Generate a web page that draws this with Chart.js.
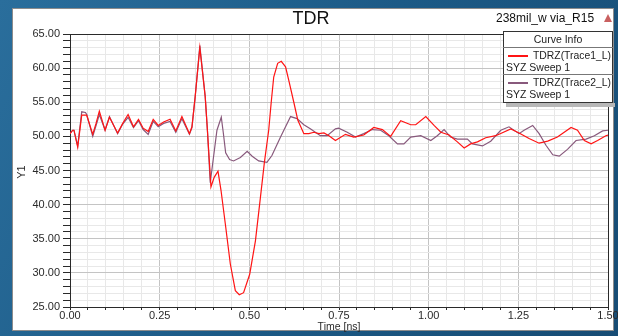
<!DOCTYPE html>
<html>
<head>
<meta charset="utf-8">
<script src="https://cdn.jsdelivr.net/npm/chart.js@4.4.1/dist/chart.umd.min.js"></script>
<style>
  html, body { margin: 0; padding: 0; background: #1f5c86; }
  #wrap { position: relative; width: 618px; height: 336px; }
</style>
</head>
<body>
<div id="wrap"><canvas id="tdr" width="618" height="336"></canvas></div>
<script>
// TDRZ(Trace1_L) - red
const trace1Time = [0.000, 0.0075, 0.011, 0.0215, 0.0327, 0.0466, 0.0634, 0.0726, 0.0818, 0.0978, 0.110, 0.1327, 0.147, 0.162, 0.177, 0.191, 0.204, 0.218, 0.232, 0.246, 0.261, 0.279, 0.295, 0.312, 0.333, 0.340, 0.349, 0.362, 0.377, 0.383, 0.393, 0.402, 0.4126, 0.421, 0.433, 0.447, 0.461, 0.472, 0.484, 0.501, 0.517, 0.531, 0.542, 0.554, 0.561, 0.568, 0.579, 0.589, 0.601, 0.610, 0.624, 0.635, 0.652, 0.666, 0.680, 0.694, 0.708, 0.722, 0.740, 0.768, 0.791, 0.819, 0.847, 0.871, 0.894, 0.922, 0.950, 0.964, 0.992, 1.015, 1.034, 1.057, 1.080, 1.099, 1.117, 1.136, 1.159, 1.187, 1.229, 1.252, 1.280, 1.308, 1.332, 1.359, 1.397, 1.415, 1.434, 1.453, 1.471, 1.494, 1.500]
const trace1Z = [50.4, 50.9, 50.9, 48.4, 53.1, 53.1, 50.3, 51.9, 53.7, 50.9, 52.8, 50.5, 51.9, 53.2, 51.4, 52.5, 51.2, 50.7, 52.5, 51.6, 52.1, 52.5, 50.8, 52.9, 50.4, 51.4, 55.8, 63.0, 55.8, 51.0, 42.6, 44.0, 44.9, 42.1, 37.2, 31.3, 27.4, 26.8, 27.1, 29.8, 34.7, 41.1, 46.2, 50.9, 55.0, 58.7, 60.7, 61.0, 60.2, 58.2, 55.0, 52.4, 50.4, 50.4, 50.6, 50.4, 50.5, 50.1, 49.4, 50.3, 49.9, 50.2, 51.3, 51.0, 50.0, 52.3, 51.7, 51.7, 52.9, 51.6, 50.6, 50.2, 49.2, 48.3, 48.9, 49.2, 49.8, 50.1, 51.1, 50.5, 49.7, 49.0, 49.3, 49.9, 51.3, 50.9, 49.4, 48.9, 49.4, 50.1, 50.2]

// TDRZ(Trace2_L) - purple
const trace2Time = [0.000, 0.0075, 0.011, 0.0215, 0.0327, 0.043, 0.0466, 0.0634, 0.0726, 0.0818, 0.0978, 0.110, 0.1327, 0.147, 0.162, 0.177, 0.191, 0.204, 0.218, 0.232, 0.246, 0.261, 0.279, 0.295, 0.312, 0.333, 0.340, 0.349, 0.362, 0.377, 0.383, 0.391, 0.4097, 0.4218, 0.4275, 0.434, 0.445, 0.456, 0.475, 0.494, 0.508, 0.526, 0.549, 0.563, 0.587, 0.615, 0.633, 0.652, 0.670, 0.698, 0.717, 0.740, 0.749, 0.773, 0.796, 0.819, 0.843, 0.866, 0.889, 0.913, 0.931, 0.950, 0.978, 1.006, 1.024, 1.043, 1.061, 1.080, 1.108, 1.122, 1.150, 1.173, 1.201, 1.224, 1.252, 1.266, 1.290, 1.308, 1.327, 1.346, 1.364, 1.387, 1.411, 1.439, 1.462, 1.485, 1.500]
const trace2Z = [50.4, 50.9, 50.9, 48.6, 53.6, 53.5, 53.2, 50.0, 51.6, 53.2, 50.9, 52.9, 50.4, 51.8, 52.8, 51.3, 52.3, 51.0, 50.3, 52.2, 51.4, 51.9, 52.2, 50.6, 52.6, 50.3, 51.3, 55.8, 63.3, 55.8, 51.0, 43.2, 50.9, 52.8, 50.5, 47.6, 46.6, 46.4, 46.9, 47.8, 47.1, 46.4, 46.2, 47.2, 49.9, 52.9, 52.6, 51.7, 51.1, 50.1, 50.1, 51.1, 51.2, 50.6, 49.9, 50.4, 51.0, 50.9, 50.1, 48.9, 48.9, 49.9, 50.1, 49.4, 50.1, 51.0, 49.9, 49.6, 49.6, 48.9, 48.6, 49.3, 50.9, 51.4, 50.4, 50.9, 51.6, 50.4, 48.7, 47.3, 47.1, 48.1, 49.4, 49.6, 50.1, 50.8, 50.9]

const xTickLabels = [0, 0.25, 0.5, 0.75, 1.0, 1.25, 1.5]
const legendNames = ["TDRZ(Trace1_L)", "TDRZ(Trace2_L)"]
const legendSweep = "SYZ Sweep 1"
const traceColors = ["#ff1414", "#88597c"]

const FONT = "'Liberation Sans', Arial, sans-serif"

function toPoints(ts, vs) {
  return ts.map((t, i) => ({ x: t, y: vs[i] }))
}

function isMultiple(v, step) {
  const r = v / step
  return Math.abs(r - Math.round(r)) < 1e-6
}

// panel, title, legend box and frame
const decor = {
  id: "decor",
  beforeDraw(chart) {
    const c = chart.ctx
    c.save()
    const g = c.createLinearGradient(0, 0, 618, 336)
    g.addColorStop(0, "#2a6e9c")
    g.addColorStop(0.5, "#1c5a86")
    g.addColorStop(1, "#174c74")
    c.fillStyle = g
    c.fillRect(0, 0, 618, 336)
    c.fillStyle = "#ffffff"
    c.fillRect(12, 8, 602, 323)
    c.strokeStyle = "#8c8c8c"
    c.lineWidth = 1
    c.strokeRect(12.5, 8.5, 601, 322)
    c.restore()
  },
  afterDatasetsDraw(chart) {
    const c = chart.ctx
    const a = chart.chartArea
    c.save()
    c.strokeStyle = "#2a2a2a"
    c.lineWidth = 1
    c.beginPath()
    c.moveTo(a.left, a.top + 0.5)
    c.lineTo(a.right + 0.5, a.top + 0.5)
    c.lineTo(a.right + 0.5, a.bottom)
    c.stroke()
    c.restore()
  },
  afterDraw(chart) {
    const c = chart.ctx
    const xs = chart.scales.x
    const a = chart.chartArea
    c.save()

    // x tick labels
    c.fillStyle = "#2a2a2a"
    c.font = "11px " + FONT
    c.textAlign = "center"
    c.textBaseline = "middle"
    xTickLabels.forEach((t) => {
      c.fillText(t.toFixed(2), xs.getPixelForValue(t), a.bottom + 9)
    })
    c.font = "10.5px " + FONT
    c.fillText("Time [ns]", (a.left + a.right) / 2, a.bottom + 20)

    // y axis title
    c.save()
    c.translate(22, 172)
    c.rotate(-Math.PI / 2)
    c.font = "11px " + FONT
    c.fillText("Y1", 0, 0)
    c.restore()

    // title and project name
    c.font = "18px " + FONT
    c.textAlign = "center"
    c.fillStyle = "#111"
    c.fillText("TDR", 311, 19)
    c.font = "12px " + FONT
    c.textAlign = "left"
    c.fillText("238mil_w via_R15", 496, 19)
    c.fillStyle = "#c96060"
    c.beginPath()
    c.moveTo(608, 14)
    c.lineTo(612, 22)
    c.lineTo(604, 22)
    c.closePath()
    c.fill()

    // curve info box
    const bx = 503, by = 31, bw = 110, bh = 72
    c.fillStyle = "#b8b8b8"
    c.fillRect(bx + 3, by + bh, bw - 1, 4)
    c.fillStyle = "#ffffff"
    c.fillRect(bx, by, bw, bh)
    c.strokeStyle = "#333"
    c.lineWidth = 1
    c.strokeRect(bx + 0.5, by + 0.5, bw - 1, bh - 1)
    c.strokeStyle = "#777"
    ;[47, 74].forEach((yy) => {
      c.beginPath()
      c.moveTo(bx, yy + 0.5)
      c.lineTo(bx + bw, yy + 0.5)
      c.stroke()
    })
    c.fillStyle = "#222"
    c.font = "10.5px " + FONT
    c.textAlign = "center"
    c.fillText("Curve Info", bx + bw / 2, by + 9)
    c.textAlign = "left"
    legendNames.forEach((name, i) => {
      const ry = 56 + i * 27
      c.strokeStyle = traceColors[i]
      c.lineWidth = 2
      c.beginPath()
      c.moveTo(bx + 5, ry)
      c.lineTo(bx + 25, ry)
      c.stroke()
      c.fillText(name, bx + 30, ry, bw - 32)
      c.fillText(legendSweep, bx + 3, ry + 12)
    })
    c.restore()
  },
}

function createChart() {
  const ctx = document.getElementById("tdr").getContext("2d")
  new Chart(ctx, {
    type: "line",
    data: {
      datasets: [
        {
          label: legendNames[0],
          data: toPoints(trace1Time, trace1Z),
          borderColor: traceColors[0],
          borderWidth: 1.2,
          pointRadius: 0,
          tension: 0,
        },
        {
          label: legendNames[1],
          data: toPoints(trace2Time, trace2Z),
          borderColor: traceColors[1],
          borderWidth: 1.2,
          pointRadius: 0,
          tension: 0,
        },
      ],
    },
    options: {
      responsive: false,
      animation: false,
      events: [],
      layout: { padding: { top: 34, right: 10, bottom: 0, left: 0 } },
      plugins: {
        legend: { display: false },
        title: { display: false },
        tooltip: { enabled: false },
      },
      scales: {
        x: {
          type: "linear",
          min: 0,
          max: 1.5,
          afterFit: (s) => { s.height = 29 },
          ticks: { stepSize: 0.05, display: false, autoSkip: false },
          border: { color: "#2a2a2a", width: 1 },
          grid: {
            color: (c) => (c.tick && isMultiple(c.tick.value, 0.25) ? "#c4c4c4" : "#e8e8e8"),
            tickColor: "#2a2a2a",
            tickLength: 3,
          },
        },
        y: {
          min: 25,
          max: 65,
          afterFit: (s) => { s.width = 70 },
          ticks: {
            stepSize: 1,
            autoSkip: false,
            padding: 3,
            color: "#2a2a2a",
            font: { family: FONT, size: 11 },
            callback: (v) => (isMultiple(v, 5) ? v.toFixed(2) : ""),
          },
          border: { color: "#2a2a2a", width: 1 },
          grid: {
            color: (c) => (c.tick && isMultiple(c.tick.value, 5) ? "#c4c4c4" : "#e8e8e8"),
            tickColor: "#2a2a2a",
            tickLength: 7,
          },
        },
      },
    },
    plugins: [decor],
  })
}

document.addEventListener("DOMContentLoaded", () => {
  createChart()
})
</script>
</body>
</html>
